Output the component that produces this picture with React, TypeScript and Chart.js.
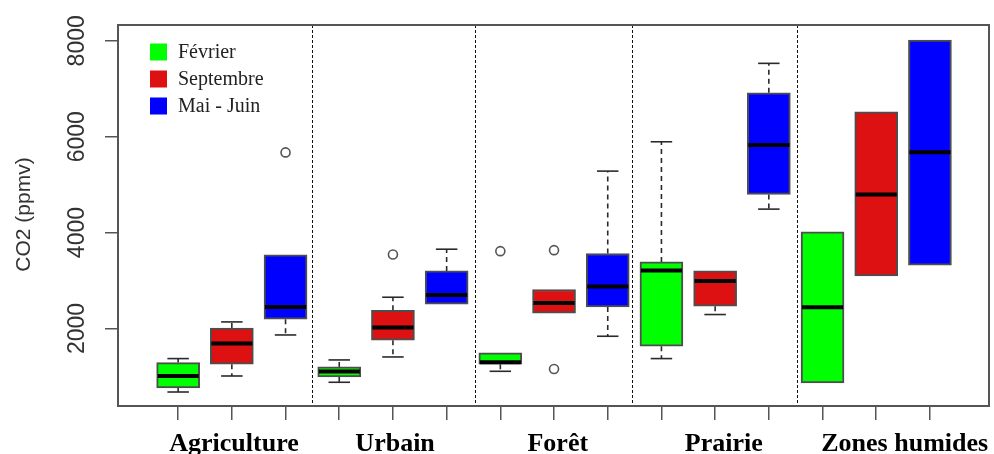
import React, { useEffect, useRef } from "react";
import { Chart, registerables } from "chart.js";

Chart.register(...registerables);

// ---------- data ----------
const groups = ["Agriculture", "Urbain", "Forêt", "Prairie", "Zones humides"];
const seriesNames = ["Février", "Septembre", "Mai - Juin"];
const seriesColors = ["#00ff00", "#dd1111", "#0000ff"];
const yTickValues = [2000, 4000, 6000, 8000];
const yTitle = "CO2 (ppmv)";

// Février (green)
const febWhiskerLow = [674, 877, 1106, 1371, 862];
const febQ1 = [758, 988, 1253, 1628, 862];
const febMedian = [1008, 1100, 1294, 3209, 2443];
const febQ3 = [1288, 1197, 1489, 3388, 4015];
const febWhiskerHigh = [1371, 1343, 1489, 5894, 4015];
const febOutliers = [[], [], [3612], [], []];

// Septembre (red)
const sepWhiskerLow = [1008, 1405, 2317, 2290, 3096];
const sepQ1 = [1253, 1754, 2317, 2463, 3096];
const sepMedian = [1685, 2018, 2533, 2992, 4795];
const sepQ3 = [2010, 2380, 2812, 3200, 6520];
const sepWhiskerHigh = [2136, 2651, 2812, 3200, 6520];
const sepOutliers = [[], [3543], [3633, 1155], [], []];

// Mai - Juin (blue)
const mjWhiskerLow = [1864, 2505, 1837, 4489, 3319];
const mjQ1 = [2192, 2505, 2449, 4796, 3319];
const mjMedian = [2449, 2699, 2875, 5825, 5678];
const mjQ3 = [3535, 3200, 3563, 6917, 8017];
const mjWhiskerHigh = [3535, 3653, 5282, 7530, 8017];
const mjOutliers = [[5672], [], [], [], []];

// group label centres and separators (in x-axis units)
const groupLabelPos = [2.04, 5.04, 8.07, 11.16, 14.53];
const separatorPos = [3.5, 6.52, 9.45, 12.52];

const seriesStats = [
  { lo: febWhiskerLow, q1: febQ1, med: febMedian, q3: febQ3, hi: febWhiskerHigh, out: febOutliers },
  { lo: sepWhiskerLow, q1: sepQ1, med: sepMedian, q3: sepQ3, hi: sepWhiskerHigh, out: sepOutliers },
  { lo: mjWhiskerLow, q1: mjQ1, med: mjMedian, q3: mjQ3, hi: mjWhiskerHigh, out: mjOutliers },
];

const posOf = (g: number, s: number) => g * 3 + s + 1;
const boxPositions = groups.flatMap((_, g) => seriesNames.map((__, s) => posOf(g, s)));

const extrasPlugin = {
  id: "boxExtras",
  beforeDatasetsDraw(chart: any) {
    const { ctx, scales } = chart;
    const xs = scales.x;
    const ys = scales.y;
    ctx.save();
    ctx.strokeStyle = "#2a2a2a";
    ctx.lineWidth = 1.6;
    seriesStats.forEach((st, s) => {
      groups.forEach((_, g) => {
        const p = posOf(g, s);
        const x = xs.getPixelForValue(p);
        const half = (xs.getPixelForValue(p + 0.2) - xs.getPixelForValue(p - 0.2)) / 2;
        const segs = [
          [st.q3[g], st.hi[g]],
          [st.q1[g], st.lo[g]],
        ];
        segs.forEach(([from, to]) => {
          if (Math.abs(from - to) < 1) return;
          const y1 = ys.getPixelForValue(from);
          const y2 = ys.getPixelForValue(to);
          ctx.setLineDash([5, 4]);
          ctx.beginPath();
          ctx.moveTo(x, y1);
          ctx.lineTo(x, y2);
          ctx.stroke();
          ctx.setLineDash([]);
          ctx.beginPath();
          ctx.moveTo(x - half, y2);
          ctx.lineTo(x + half, y2);
          ctx.stroke();
        });
      });
    });
    ctx.restore();
  },
  afterDraw(chart: any) {
    const { ctx, scales, chartArea } = chart;
    const xs = scales.x;
    const ys = scales.y;
    ctx.save();
    // separators
    ctx.strokeStyle = "#111";
    ctx.lineWidth = 1;
    ctx.setLineDash([3, 2]);
    separatorPos.forEach((v) => {
      const x = Math.round(xs.getPixelForValue(v)) + 0.5;
      ctx.beginPath();
      ctx.moveTo(x, chartArea.top);
      ctx.lineTo(x, chartArea.bottom);
      ctx.stroke();
    });
    ctx.setLineDash([]);
    // frame
    ctx.strokeStyle = "#555";
    ctx.lineWidth = 2;
    ctx.strokeRect(chartArea.left, chartArea.top, chartArea.right - chartArea.left, chartArea.bottom - chartArea.top);

    // y tick labels (rotated)
    ctx.fillStyle = "#333";
    ctx.font = "23px 'Liberation Sans', Arial, sans-serif";
    ctx.textAlign = "center";
    ctx.textBaseline = "middle";
    yTickValues.forEach((v) => {
      const y = ys.getPixelForValue(v);
      ctx.save();
      ctx.translate(chartArea.left - 40.5, y);
      ctx.rotate(-Math.PI / 2);
      ctx.fillText(String(v), 0, 0);
      ctx.restore();
    });
    // y title
    ctx.font = "21px 'Liberation Sans', Arial, sans-serif";
    ctx.save();
    ctx.translate(24, (chartArea.top + chartArea.bottom) / 2 - 1);
    ctx.rotate(-Math.PI / 2);
    ctx.fillText(yTitle, 0, 0);
    ctx.restore();

    // group labels
    ctx.fillStyle = "#000";
    ctx.font = "bold 26px 'Liberation Serif', 'Times New Roman', serif";
    ctx.textBaseline = "alphabetic";
    groups.forEach((name, g) => {
      ctx.fillText(name, xs.getPixelForValue(groupLabelPos[g]), chartArea.bottom + 45);
    });

    // legend
    ctx.textAlign = "left";
    ctx.textBaseline = "middle";
    ctx.font = "20px 'Liberation Serif', 'Times New Roman', serif";
    seriesNames.forEach((name, s) => {
      const cy = chartArea.top + 27 + s * 27;
      const bx = chartArea.left + 32;
      ctx.fillStyle = seriesColors[s];
      ctx.fillRect(bx, cy - 8.5, 17, 17);
      ctx.fillStyle = "#222";
      ctx.fillText(name, bx + 28, cy + 1);
    });
    ctx.restore();
  },
};

export default function App() {
  const canvasRef = useRef<HTMLCanvasElement | null>(null);

  useEffect(() => {
    const canvas = canvasRef.current;
    if (!canvas) return;

    const barSets = seriesNames.map((name, s) => ({
      type: "bar" as const,
      label: name,
      data: groups.map((_, g) => ({ x: posOf(g, s), y: [seriesStats[s].q1[g], seriesStats[s].q3[g]] })),
      backgroundColor: seriesColors[s],
      borderColor: "#4d4d4d",
      borderWidth: 2,
      borderSkipped: false,
      grouped: false,
      barThickness: 43,
      order: 3,
    }));

    const medianSet = {
      type: "scatter" as const,
      label: "median",
      data: seriesNames.flatMap((_, s) => groups.map((__, g) => ({ x: posOf(g, s), y: seriesStats[s].med[g] }))),
      pointStyle: "line",
      pointRadius: 20.5,
      borderColor: "#000",
      borderWidth: 4,
      order: 1,
    };

    const outlierSet = {
      type: "scatter" as const,
      label: "outliers",
      data: seriesNames.flatMap((_, s) =>
        groups.flatMap((__, g) => seriesStats[s].out[g].map((v) => ({ x: posOf(g, s), y: v })))
      ),
      pointStyle: "circle",
      pointRadius: 4.5,
      backgroundColor: "#fff",
      borderColor: "#555",
      borderWidth: 1.6,
      order: 0,
    };

    const chart = new Chart(canvas, {
      type: "bar",
      data: { datasets: [outlierSet, medianSet, ...barSets] as any },
      options: {
        responsive: false,
        animation: false,
        layout: { padding: { top: 25, right: 5, left: 0, bottom: 0 }, autoPadding: false },
        plugins: { legend: { display: false }, tooltip: { enabled: false } },
        scales: {
          x: {
            type: "linear",
            offset: false,
            min: -0.12,
            max: 16.1,
            afterBuildTicks: (scale: any) => {
              scale.ticks = boxPositions.map((v) => ({ value: v }));
            },
            afterFit: (scale: any) => {
              scale.height = 48;
              scale.paddingLeft = 0;
              scale.paddingRight = 0;
            },
            ticks: { display: false },
            grid: { display: true, offset: false, drawOnChartArea: false, drawTicks: true, tickLength: 14, color: "#555", lineWidth: 1.5 },
            border: { display: false },
          },
          y: {
            type: "linear",
            min: 382,
            max: 8330,
            afterBuildTicks: (scale: any) => {
              scale.ticks = yTickValues.map((v) => ({ value: v }));
            },
            afterFit: (scale: any) => {
              scale.width = 118;
              scale.paddingTop = 0;
              scale.paddingBottom = 0;
            },
            ticks: { display: false },
            grid: { display: true, drawOnChartArea: false, drawTicks: true, tickLength: 13, color: "#555", lineWidth: 1.5 },
            border: { display: false },
          },
        },
      } as any,
      plugins: [extrasPlugin],
    });

    return () => chart.destroy();
  }, []);

  return (
    <div style={{ position: "absolute", left: 0, top: 0, width: 994, height: 454, background: "#fff" }}>
      <canvas ref={canvasRef} width={994} height={454} style={{ display: "block" }} />
    </div>
  );
}
